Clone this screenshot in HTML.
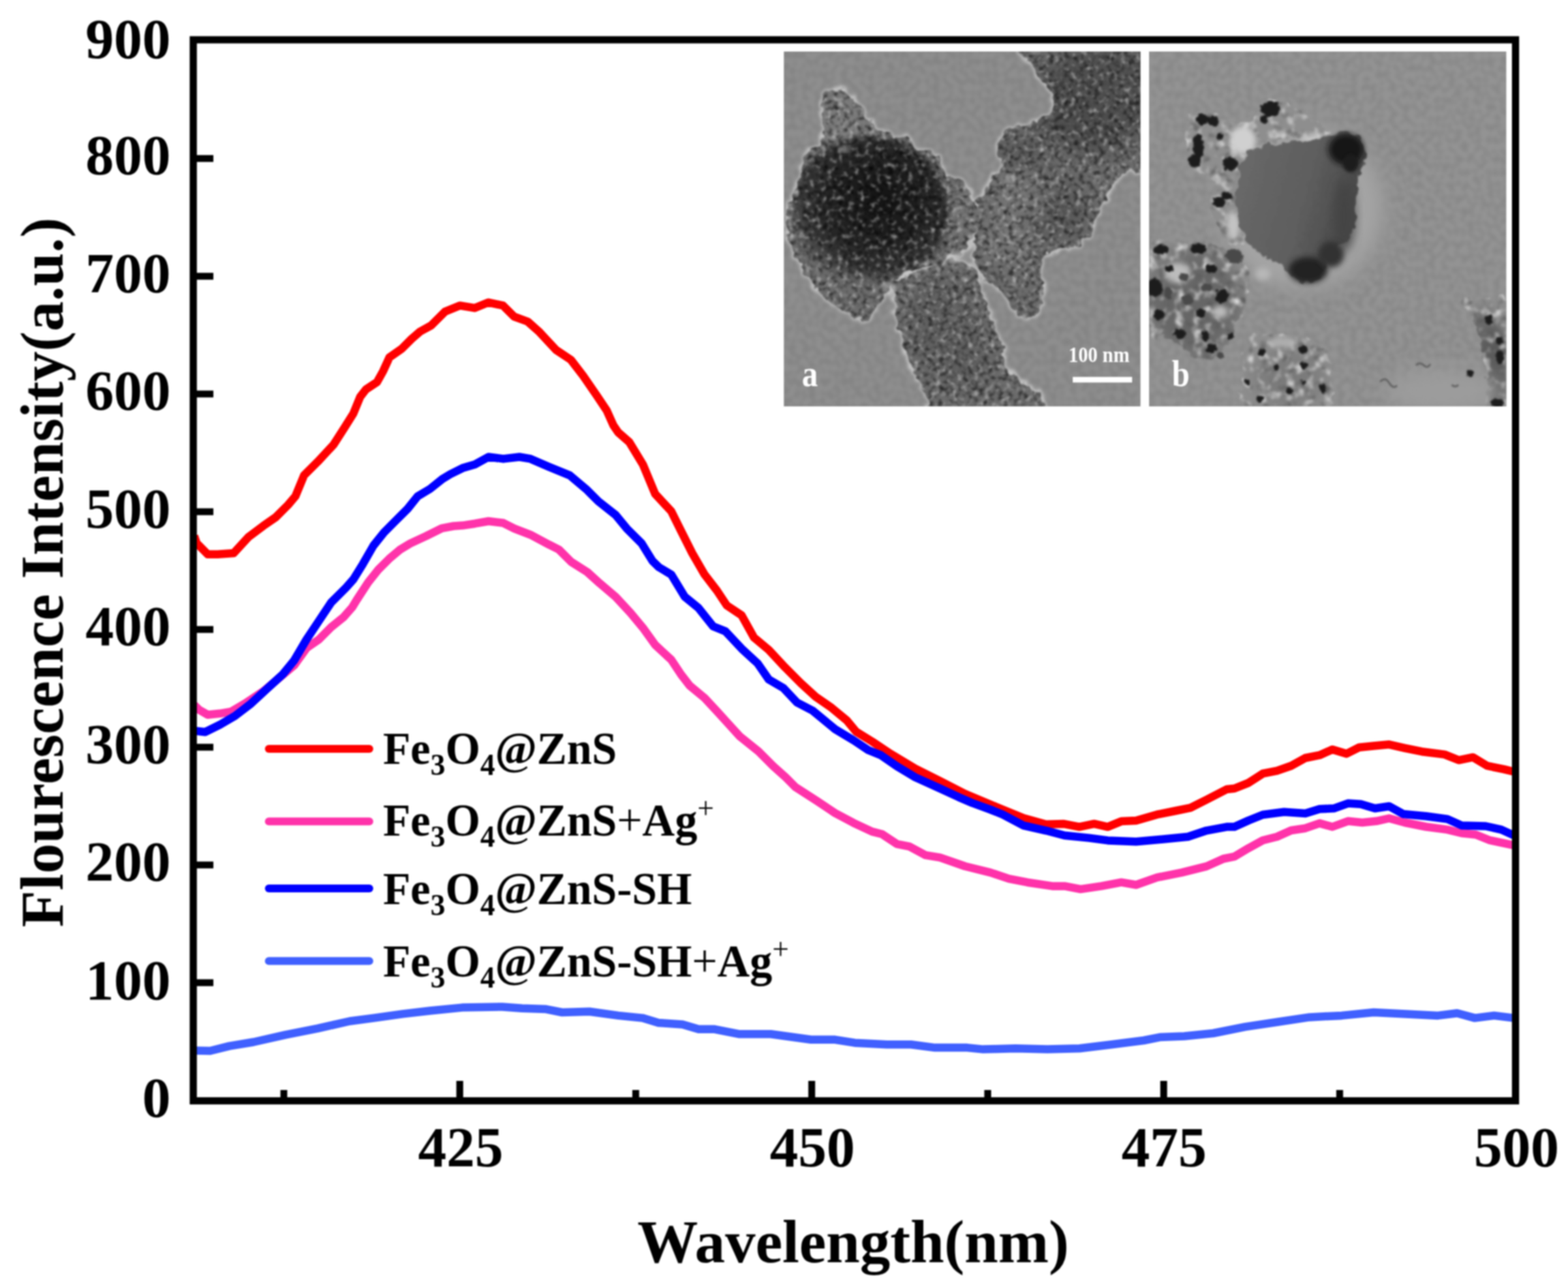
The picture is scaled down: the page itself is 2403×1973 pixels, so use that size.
<!DOCTYPE html>
<html><head><meta charset="utf-8">
<title>Fluorescence spectra</title>
<style>
html,body{margin:0;padding:0;background:#fff;}
body{width:2403px;height:1973px;overflow:hidden;}
svg{display:block;filter:blur(0.9px);}
text{font-family:"Liberation Serif","Times New Roman",serif;font-weight:bold;fill:#000;}
</style></head>
<body>
<svg width="2403" height="1973" viewBox="0 0 2403 1973">
<defs>
<clipPath id="cpa"><rect x="1201.3" y="79" width="546.5" height="544"/></clipPath>
<clipPath id="cpb"><rect x="1761" y="79" width="547.4" height="544"/></clipPath>
<filter id="blur1" x="-20%" y="-20%" width="140%" height="140%"><feGaussianBlur stdDeviation="1.2"/></filter>
<filter id="blur2" x="-20%" y="-20%" width="140%" height="140%"><feGaussianBlur stdDeviation="2"/></filter>
<filter id="blur4" x="-30%" y="-30%" width="160%" height="160%"><feGaussianBlur stdDeviation="4"/></filter>
<filter id="blur8" x="-40%" y="-40%" width="180%" height="180%"><feGaussianBlur stdDeviation="8"/></filter>
<filter id="blur15" x="-50%" y="-50%" width="200%" height="200%"><feGaussianBlur stdDeviation="15"/></filter>
<filter id="rough" x="-10%" y="-10%" width="120%" height="120%">
<feTurbulence type="fractalNoise" baseFrequency="0.08" numOctaves="2" seed="3" result="n"/>
<feDisplacementMap in="SourceGraphic" in2="n" scale="16" xChannelSelector="R" yChannelSelector="G" result="d"/>
<feGaussianBlur in="d" stdDeviation="1"/>
</filter>
<filter id="rough2" x="-30%" y="-30%" width="160%" height="160%">
<feTurbulence type="fractalNoise" baseFrequency="0.15" numOctaves="2" seed="9" result="n"/>
<feDisplacementMap in="SourceGraphic" in2="n" scale="7" xChannelSelector="R" yChannelSelector="G" result="d"/>
<feGaussianBlur in="d" stdDeviation="1.1"/>
</filter>
<filter id="darkspk" x="0" y="0" width="100%" height="100%">
<feTurbulence type="fractalNoise" baseFrequency="0.13" numOctaves="2" seed="7"/>
<feColorMatrix type="matrix" values="0 0 0 0 0  0 0 0 0 0  0 0 0 0 0  1.8 0 0 0 -0.82"/>
<feGaussianBlur stdDeviation="1.3"/>
</filter>
<filter id="lightspk" x="0" y="0" width="100%" height="100%">
<feTurbulence type="fractalNoise" baseFrequency="0.12" numOctaves="2" seed="19"/>
<feColorMatrix type="matrix" values="0 0 0 0 0.75  0 0 0 0 0.75  0 0 0 0 0.75  1.8 0 0 0 -0.95"/>
<feGaussianBlur stdDeviation="1.3"/>
</filter>
<filter id="darkspkB" x="0" y="0" width="100%" height="100%">
<feTurbulence type="fractalNoise" baseFrequency="0.07" numOctaves="2" seed="5"/>
<feColorMatrix type="matrix" values="0 0 0 0 0.1  0 0 0 0 0.1  0 0 0 0 0.1  3 0 0 0 -1.6"/>
<feGaussianBlur stdDeviation="1.5"/>
</filter>
<filter id="lightspkB" x="0" y="0" width="100%" height="100%">
<feTurbulence type="fractalNoise" baseFrequency="0.07" numOctaves="2" seed="29"/>
<feColorMatrix type="matrix" values="0 0 0 0 0.82  0 0 0 0 0.82  0 0 0 0 0.82  2.5 0 0 0 -1.25"/>
<feGaussianBlur stdDeviation="1.5"/>
</filter>
<filter id="bgnoise" x="0" y="0" width="100%" height="100%">
<feTurbulence type="fractalNoise" baseFrequency="0.1" numOctaves="1" seed="23"/>
<feColorMatrix type="matrix" values="0 0 0 0 0  0 0 0 0 0  0 0 0 0 0  0.16 0 0 0 -0.05"/>
<feGaussianBlur stdDeviation="1"/>
</filter>
<radialGradient id="ballA" cx="0.56" cy="0.42" r="0.6">
<stop offset="0" stop-color="#141414"/>
<stop offset="0.5" stop-color="#222"/>
<stop offset="0.8" stop-color="#363636"/>
<stop offset="1" stop-color="#4a4a4a" stop-opacity="0"/>
</radialGradient>
<radialGradient id="ballB" cx="0.4" cy="0.5" r="0.65">
<stop offset="0" stop-color="#6c6c6c"/>
<stop offset="0.6" stop-color="#626262"/>
<stop offset="1" stop-color="#4c4c4c"/>
</radialGradient>
<linearGradient id="ballBg" x1="0" y1="0" x2="1" y2="0.3">
<stop offset="0" stop-color="#6a6a6a"/>
<stop offset="0.6" stop-color="#5e5e5e"/>
<stop offset="1" stop-color="#474747"/>
</linearGradient>
<radialGradient id="haloB" cx="0.5" cy="0.5" r="0.5">
<stop offset="0" stop-color="#b0b0b0"/>
<stop offset="0.75" stop-color="#a2a2a2"/>
<stop offset="1" stop-color="#919191" stop-opacity="0"/>
</radialGradient>
</defs>
<rect width="2403" height="1973" fill="#fff"/>

<mask id="mA" x="1190" y="70" width="570" height="560" maskUnits="userSpaceOnUse"><rect x="1190" y="70" width="570" height="560" fill="#000"/><g fill="#fff" filter="url(#rough)"><path d="M1262.9,144.0 C1266.6,139.8 1276.0,138.3 1281.8,137.7 C1287.5,137.2 1292.8,138.3 1297.5,140.9 C1302.2,143.5 1305.9,149.3 1310.1,153.5 C1314.3,157.7 1320.0,161.3 1322.6,166.1 C1325.3,170.8 1323.2,178.1 1325.8,181.8 C1328.4,185.4 1334.7,184.9 1338.4,188.1 C1342.0,191.2 1343.6,198.0 1347.8,200.6 C1352.0,203.3 1358.8,202.2 1363.5,203.8 C1368.2,205.4 1371.9,209.6 1376.1,210.1 C1380.3,210.6 1385.0,205.4 1388.7,206.9 C1392.3,208.5 1395.5,215.3 1398.1,219.5 C1400.7,223.7 1400.7,230.0 1404.4,232.1 C1408.1,234.2 1415.4,231.6 1420.1,232.1 C1424.8,232.6 1429.0,232.6 1432.7,235.2 C1436.4,237.9 1440.0,242.6 1442.1,247.8 C1444.2,253.1 1442.7,262.5 1445.3,266.7 C1447.9,270.9 1453.1,271.4 1457.9,273.0 C1462.6,274.5 1469.4,273.5 1473.6,276.1 C1477.8,278.7 1480.4,284.0 1483.0,288.7 C1485.6,293.4 1486.7,299.7 1489.3,304.4 C1491.9,309.1 1496.6,312.8 1498.7,317.0 C1500.8,321.2 1502.4,324.3 1501.9,329.6 C1501.4,334.8 1497.7,342.2 1495.6,348.4 C1493.5,354.7 1491.9,362.1 1489.3,367.3 C1486.7,372.5 1483.5,376.2 1479.9,379.9 C1476.2,383.6 1472.0,386.7 1467.3,389.3 C1462.6,391.9 1456.3,393.0 1451.6,395.6 C1446.9,398.2 1444.2,402.9 1439.0,405.0 C1433.8,407.1 1426.4,406.6 1420.1,408.2 C1413.8,409.8 1407.5,412.4 1401.3,414.5 C1395.0,416.6 1387.6,417.6 1382.4,420.8 C1377.1,423.9 1373.5,428.6 1369.8,433.3 C1366.1,438.1 1363.5,443.8 1360.4,449.1 C1357.2,454.3 1354.6,459.6 1350.9,464.8 C1347.3,470.0 1342.6,476.3 1338.4,480.5 C1334.2,484.7 1330.5,488.9 1325.8,489.9 C1321.1,491.0 1315.3,488.9 1310.1,486.8 C1304.8,484.7 1299.6,480.5 1294.3,477.4 C1289.1,474.2 1283.9,472.1 1278.6,467.9 C1273.4,463.7 1268.1,457.5 1262.9,452.2 C1257.7,447.0 1251.9,442.3 1247.2,436.5 C1242.5,430.7 1238.8,424.4 1234.6,417.6 C1230.4,410.8 1225.7,402.4 1222.0,395.6 C1218.3,388.8 1215.2,383.6 1212.6,376.7 C1210.0,369.9 1207.3,362.6 1206.3,354.7 C1205.2,346.9 1205.2,337.4 1206.3,329.6 C1207.3,321.7 1210.5,314.9 1212.6,307.6 C1214.7,300.2 1216.2,292.4 1218.9,285.5 C1221.5,278.7 1226.2,273.5 1228.3,266.7 C1230.4,259.9 1229.4,251.0 1231.4,244.7 C1233.5,238.4 1236.7,232.6 1240.9,228.9 C1245.1,225.3 1252.9,226.8 1256.6,222.7 C1260.3,218.5 1262.4,210.6 1262.9,203.8 C1263.4,197.0 1260.3,188.6 1259.7,181.8 C1259.2,175.0 1259.2,169.2 1259.7,162.9 C1260.3,156.6 1259.2,148.2 1262.9,144.0 Z"/><path d="M1369.8,433.3 C1372.7,427.1 1381.3,427.1 1388.7,423.9 C1396.0,420.8 1405.5,417.6 1413.8,414.5 C1422.2,411.3 1431.1,407.7 1439.0,405.0 C1446.9,402.4 1453.7,398.8 1461.0,398.8 C1468.3,398.8 1476.7,400.9 1483.0,405.0 C1489.3,409.2 1494.5,416.6 1498.7,423.9 C1502.9,431.2 1505.6,440.7 1508.2,449.1 C1510.8,457.5 1512.4,466.9 1514.5,474.2 C1516.6,481.6 1518.1,486.8 1520.8,493.1 C1523.4,499.4 1527.6,505.7 1530.2,512.0 C1532.8,518.3 1534.9,524.0 1536.5,530.8 C1538.1,537.6 1537.5,545.5 1539.6,552.8 C1541.7,560.2 1544.9,569.1 1549.1,574.9 C1553.2,580.6 1559.0,583.8 1564.8,587.4 C1570.5,591.1 1578.4,588.5 1583.6,596.9 C1588.9,605.3 1620.3,630.9 1596.2,637.7 C1572.1,644.6 1468.3,643.0 1439.0,637.7 C1409.6,632.5 1425.4,615.7 1420.1,606.3 C1414.9,596.9 1411.7,589.5 1407.5,581.1 C1403.4,572.8 1398.6,564.4 1395.0,556.0 C1391.3,547.6 1388.2,538.7 1385.5,530.8 C1382.9,523.0 1381.3,516.2 1379.2,508.8 C1377.1,501.5 1374.3,494.7 1373.0,486.8 C1371.6,478.9 1371.9,470.6 1371.4,461.6 C1370.9,452.7 1366.9,439.6 1369.8,433.3 Z"/><path d="M1495.6,323.3 C1497.2,313.8 1501.9,304.9 1505.0,298.1 C1508.2,291.3 1510.8,287.1 1514.5,282.4 C1518.1,277.7 1523.9,274.5 1527.0,269.8 C1530.2,265.1 1532.8,260.4 1533.3,254.1 C1533.9,247.8 1530.2,238.9 1530.2,232.1 C1530.2,225.3 1530.7,219.0 1533.3,213.2 C1536.0,207.5 1541.2,201.2 1545.9,197.5 C1550.6,193.8 1556.4,191.7 1561.6,191.2 C1566.9,190.7 1572.6,195.4 1577.4,194.4 C1582.1,193.3 1585.2,188.1 1589.9,184.9 C1594.7,181.8 1601.5,179.2 1605.7,175.5 C1609.9,171.8 1614.0,167.6 1615.1,162.9 C1616.1,158.2 1614.0,152.4 1611.9,147.2 C1609.9,141.9 1606.2,136.7 1602.5,131.5 C1598.8,126.2 1593.6,121.5 1589.9,115.7 C1586.3,110.0 1583.1,104.7 1580.5,96.9 C1577.9,89.0 1543.8,73.3 1574.2,68.6 C1604.6,63.8 1731.4,38.7 1762.9,68.6 C1794.3,98.4 1766.6,215.8 1762.9,247.8 C1759.2,279.8 1747.7,257.2 1740.9,260.4 C1734.1,263.5 1727.3,263.5 1722.0,266.7 C1716.8,269.8 1713.6,274.0 1709.4,279.3 C1705.2,284.5 1700.5,291.8 1696.9,298.1 C1693.2,304.4 1690.6,310.2 1687.4,317.0 C1684.3,323.8 1680.6,332.2 1678.0,339.0 C1675.4,345.8 1674.8,352.6 1671.7,357.9 C1668.6,363.1 1664.4,366.8 1659.1,370.5 C1653.9,374.1 1646.5,377.8 1640.3,379.9 C1634.0,382.0 1627.7,381.5 1621.4,383.0 C1615.1,384.6 1607.2,385.7 1602.5,389.3 C1597.8,393.0 1594.7,399.3 1593.1,405.0 C1591.5,410.8 1592.0,417.6 1593.1,423.9 C1594.1,430.2 1598.8,436.0 1599.4,442.8 C1599.9,449.6 1598.3,458.0 1596.2,464.8 C1594.1,471.6 1591.0,480.0 1586.8,483.7 C1582.6,487.3 1576.3,487.9 1571.1,486.8 C1565.8,485.8 1559.5,481.6 1555.3,477.4 C1551.2,473.2 1549.6,466.9 1545.9,461.6 C1542.2,456.4 1538.1,450.6 1533.3,445.9 C1528.6,441.2 1522.3,437.5 1517.6,433.3 C1512.9,429.2 1508.7,426.0 1505.0,420.8 C1501.4,415.5 1497.7,408.7 1495.6,401.9 C1493.5,395.1 1492.5,387.7 1492.5,379.9 C1492.5,372.0 1495.1,364.2 1495.6,354.7 C1496.1,345.3 1494.0,332.7 1495.6,323.3 Z"/></g></mask>
<g clip-path="url(#cpa)">
<rect x="1201" y="79" width="547" height="544" fill="#8e8e8e"/>
<g filter="url(#bgnoise)"><rect x="1201" y="79" width="547" height="544"/></g>
<g fill="none" stroke="#c8c8c8" stroke-width="6" filter="url(#blur2)"><g filter="url(#rough)"><path d="M1262.9,144.0 C1266.6,139.8 1276.0,138.3 1281.8,137.7 C1287.5,137.2 1292.8,138.3 1297.5,140.9 C1302.2,143.5 1305.9,149.3 1310.1,153.5 C1314.3,157.7 1320.0,161.3 1322.6,166.1 C1325.3,170.8 1323.2,178.1 1325.8,181.8 C1328.4,185.4 1334.7,184.9 1338.4,188.1 C1342.0,191.2 1343.6,198.0 1347.8,200.6 C1352.0,203.3 1358.8,202.2 1363.5,203.8 C1368.2,205.4 1371.9,209.6 1376.1,210.1 C1380.3,210.6 1385.0,205.4 1388.7,206.9 C1392.3,208.5 1395.5,215.3 1398.1,219.5 C1400.7,223.7 1400.7,230.0 1404.4,232.1 C1408.1,234.2 1415.4,231.6 1420.1,232.1 C1424.8,232.6 1429.0,232.6 1432.7,235.2 C1436.4,237.9 1440.0,242.6 1442.1,247.8 C1444.2,253.1 1442.7,262.5 1445.3,266.7 C1447.9,270.9 1453.1,271.4 1457.9,273.0 C1462.6,274.5 1469.4,273.5 1473.6,276.1 C1477.8,278.7 1480.4,284.0 1483.0,288.7 C1485.6,293.4 1486.7,299.7 1489.3,304.4 C1491.9,309.1 1496.6,312.8 1498.7,317.0 C1500.8,321.2 1502.4,324.3 1501.9,329.6 C1501.4,334.8 1497.7,342.2 1495.6,348.4 C1493.5,354.7 1491.9,362.1 1489.3,367.3 C1486.7,372.5 1483.5,376.2 1479.9,379.9 C1476.2,383.6 1472.0,386.7 1467.3,389.3 C1462.6,391.9 1456.3,393.0 1451.6,395.6 C1446.9,398.2 1444.2,402.9 1439.0,405.0 C1433.8,407.1 1426.4,406.6 1420.1,408.2 C1413.8,409.8 1407.5,412.4 1401.3,414.5 C1395.0,416.6 1387.6,417.6 1382.4,420.8 C1377.1,423.9 1373.5,428.6 1369.8,433.3 C1366.1,438.1 1363.5,443.8 1360.4,449.1 C1357.2,454.3 1354.6,459.6 1350.9,464.8 C1347.3,470.0 1342.6,476.3 1338.4,480.5 C1334.2,484.7 1330.5,488.9 1325.8,489.9 C1321.1,491.0 1315.3,488.9 1310.1,486.8 C1304.8,484.7 1299.6,480.5 1294.3,477.4 C1289.1,474.2 1283.9,472.1 1278.6,467.9 C1273.4,463.7 1268.1,457.5 1262.9,452.2 C1257.7,447.0 1251.9,442.3 1247.2,436.5 C1242.5,430.7 1238.8,424.4 1234.6,417.6 C1230.4,410.8 1225.7,402.4 1222.0,395.6 C1218.3,388.8 1215.2,383.6 1212.6,376.7 C1210.0,369.9 1207.3,362.6 1206.3,354.7 C1205.2,346.9 1205.2,337.4 1206.3,329.6 C1207.3,321.7 1210.5,314.9 1212.6,307.6 C1214.7,300.2 1216.2,292.4 1218.9,285.5 C1221.5,278.7 1226.2,273.5 1228.3,266.7 C1230.4,259.9 1229.4,251.0 1231.4,244.7 C1233.5,238.4 1236.7,232.6 1240.9,228.9 C1245.1,225.3 1252.9,226.8 1256.6,222.7 C1260.3,218.5 1262.4,210.6 1262.9,203.8 C1263.4,197.0 1260.3,188.6 1259.7,181.8 C1259.2,175.0 1259.2,169.2 1259.7,162.9 C1260.3,156.6 1259.2,148.2 1262.9,144.0 Z"/><path d="M1369.8,433.3 C1372.7,427.1 1381.3,427.1 1388.7,423.9 C1396.0,420.8 1405.5,417.6 1413.8,414.5 C1422.2,411.3 1431.1,407.7 1439.0,405.0 C1446.9,402.4 1453.7,398.8 1461.0,398.8 C1468.3,398.8 1476.7,400.9 1483.0,405.0 C1489.3,409.2 1494.5,416.6 1498.7,423.9 C1502.9,431.2 1505.6,440.7 1508.2,449.1 C1510.8,457.5 1512.4,466.9 1514.5,474.2 C1516.6,481.6 1518.1,486.8 1520.8,493.1 C1523.4,499.4 1527.6,505.7 1530.2,512.0 C1532.8,518.3 1534.9,524.0 1536.5,530.8 C1538.1,537.6 1537.5,545.5 1539.6,552.8 C1541.7,560.2 1544.9,569.1 1549.1,574.9 C1553.2,580.6 1559.0,583.8 1564.8,587.4 C1570.5,591.1 1578.4,588.5 1583.6,596.9 C1588.9,605.3 1620.3,630.9 1596.2,637.7 C1572.1,644.6 1468.3,643.0 1439.0,637.7 C1409.6,632.5 1425.4,615.7 1420.1,606.3 C1414.9,596.9 1411.7,589.5 1407.5,581.1 C1403.4,572.8 1398.6,564.4 1395.0,556.0 C1391.3,547.6 1388.2,538.7 1385.5,530.8 C1382.9,523.0 1381.3,516.2 1379.2,508.8 C1377.1,501.5 1374.3,494.7 1373.0,486.8 C1371.6,478.9 1371.9,470.6 1371.4,461.6 C1370.9,452.7 1366.9,439.6 1369.8,433.3 Z"/><path d="M1495.6,323.3 C1497.2,313.8 1501.9,304.9 1505.0,298.1 C1508.2,291.3 1510.8,287.1 1514.5,282.4 C1518.1,277.7 1523.9,274.5 1527.0,269.8 C1530.2,265.1 1532.8,260.4 1533.3,254.1 C1533.9,247.8 1530.2,238.9 1530.2,232.1 C1530.2,225.3 1530.7,219.0 1533.3,213.2 C1536.0,207.5 1541.2,201.2 1545.9,197.5 C1550.6,193.8 1556.4,191.7 1561.6,191.2 C1566.9,190.7 1572.6,195.4 1577.4,194.4 C1582.1,193.3 1585.2,188.1 1589.9,184.9 C1594.7,181.8 1601.5,179.2 1605.7,175.5 C1609.9,171.8 1614.0,167.6 1615.1,162.9 C1616.1,158.2 1614.0,152.4 1611.9,147.2 C1609.9,141.9 1606.2,136.7 1602.5,131.5 C1598.8,126.2 1593.6,121.5 1589.9,115.7 C1586.3,110.0 1583.1,104.7 1580.5,96.9 C1577.9,89.0 1543.8,73.3 1574.2,68.6 C1604.6,63.8 1731.4,38.7 1762.9,68.6 C1794.3,98.4 1766.6,215.8 1762.9,247.8 C1759.2,279.8 1747.7,257.2 1740.9,260.4 C1734.1,263.5 1727.3,263.5 1722.0,266.7 C1716.8,269.8 1713.6,274.0 1709.4,279.3 C1705.2,284.5 1700.5,291.8 1696.9,298.1 C1693.2,304.4 1690.6,310.2 1687.4,317.0 C1684.3,323.8 1680.6,332.2 1678.0,339.0 C1675.4,345.8 1674.8,352.6 1671.7,357.9 C1668.6,363.1 1664.4,366.8 1659.1,370.5 C1653.9,374.1 1646.5,377.8 1640.3,379.9 C1634.0,382.0 1627.7,381.5 1621.4,383.0 C1615.1,384.6 1607.2,385.7 1602.5,389.3 C1597.8,393.0 1594.7,399.3 1593.1,405.0 C1591.5,410.8 1592.0,417.6 1593.1,423.9 C1594.1,430.2 1598.8,436.0 1599.4,442.8 C1599.9,449.6 1598.3,458.0 1596.2,464.8 C1594.1,471.6 1591.0,480.0 1586.8,483.7 C1582.6,487.3 1576.3,487.9 1571.1,486.8 C1565.8,485.8 1559.5,481.6 1555.3,477.4 C1551.2,473.2 1549.6,466.9 1545.9,461.6 C1542.2,456.4 1538.1,450.6 1533.3,445.9 C1528.6,441.2 1522.3,437.5 1517.6,433.3 C1512.9,429.2 1508.7,426.0 1505.0,420.8 C1501.4,415.5 1497.7,408.7 1495.6,401.9 C1493.5,395.1 1492.5,387.7 1492.5,379.9 C1492.5,372.0 1495.1,364.2 1495.6,354.7 C1496.1,345.3 1494.0,332.7 1495.6,323.3 Z"/></g></g>
<g mask="url(#mA)">
<rect x="1201" y="79" width="547" height="544" fill="#6b6b6b"/>
<ellipse cx="1671.7" cy="156.6" rx="90" ry="80" fill="#4e4e4e" filter="url(#blur15)"/>
<ellipse cx="1709.4" cy="118.9" rx="50" ry="40" fill="#505050" filter="url(#blur15)"/>
<ellipse cx="1608.8" cy="323.3" rx="60" ry="50" fill="#5a5a5a" filter="url(#blur15)"/>
<ellipse cx="1561.6" cy="241.5" rx="45" ry="40" fill="#5c5c5c" filter="url(#blur15)"/>
<ellipse cx="1445.3" cy="502.5" rx="55" ry="70" fill="#606060" filter="url(#blur15)"/>
<ellipse cx="1476.7" cy="565.4" rx="40" ry="40" fill="#5e5e5e" filter="url(#blur15)"/>
<ellipse cx="1545.9" cy="361.0" rx="40" ry="40" fill="#767676" filter="url(#blur15)"/>
<ellipse cx="1294.3" cy="181.8" rx="45" ry="50" fill="#7a7a7a" filter="url(#blur15)"/>
<ellipse cx="1561.6" cy="298.1" rx="45" ry="40" fill="#747474" filter="url(#blur15)"/>
<ellipse cx="1467.3" cy="329.6" rx="30" ry="40" fill="#737373" filter="url(#blur15)"/>
<ellipse cx="1332.1" cy="323.3" rx="122" ry="114" fill="url(#ballA)" filter="url(#blur4)"/>
<g filter="url(#darkspk)"><rect x="1201" y="79" width="547" height="544"/></g>
<g filter="url(#lightspk)"><rect x="1201" y="79" width="547" height="544"/></g>
<ellipse cx="1363.5" cy="439.6" rx="12.6" ry="4.4" fill="#a8a8a8" filter="url(#blur4)"/>
<ellipse cx="1470.4" cy="395.6" rx="18.9" ry="7.9" fill="#a8a8a8" filter="url(#blur4)"/>
<ellipse cx="1545.9" cy="273.0" rx="7.9" ry="4.4" fill="#a8a8a8" filter="url(#blur4)"/>
<ellipse cx="1294.3" cy="228.9" rx="7.9" ry="3.8" fill="#a8a8a8" filter="url(#blur4)"/>
</g>
</g>
<text transform="translate(1229,592) scale(0.85,1)" font-size="57.5" style="fill:#fff">a</text>
<text transform="translate(1637.5,554.5) scale(0.876,1)" font-size="34" style="fill:#fff">100 nm</text>
<rect x="1644" y="577.8" width="91" height="8.6" fill="#fff"/>
<g clip-path="url(#cpb)">
<rect x="1761" y="79" width="548" height="544" fill="#939393"/>
<g filter="url(#bgnoise)"><rect x="1761" y="79" width="548" height="544"/></g>
<ellipse cx="1995" cy="318" rx="150" ry="150" fill="url(#haloB)" filter="url(#blur8)"/>
<mask id="mB" x="1750" y="70" width="570" height="560" maskUnits="userSpaceOnUse"><rect x="1750" y="70" width="570" height="560" fill="#000"/><g fill="#fff" filter="url(#rough)"><path d="M1761.0,373.0 C1765.8,350.3 1778.5,369.3 1790.0,369.0 C1801.5,368.7 1816.7,369.5 1830.0,371.0 C1843.3,372.5 1858.3,374.3 1870.0,378.0 C1881.7,381.7 1892.5,386.0 1900.0,393.0 C1907.5,400.0 1913.3,408.8 1915.0,420.0 C1916.7,431.2 1913.3,446.7 1910.0,460.0 C1906.7,473.3 1900.0,488.3 1895.0,500.0 C1890.0,511.7 1885.8,522.0 1880.0,530.0 C1874.2,538.0 1866.7,544.7 1860.0,548.0 C1853.3,551.3 1848.3,552.7 1840.0,550.0 C1831.7,547.3 1819.2,537.8 1810.0,532.0 C1800.8,526.2 1793.2,519.5 1785.0,515.0 C1776.8,510.5 1765.0,528.7 1761.0,505.0 C1757.0,481.3 1756.2,395.7 1761.0,373.0 Z"/><path d="M1825.0,172.0 C1830.0,167.5 1841.7,166.7 1850.0,168.0 C1858.3,169.3 1867.5,176.3 1875.0,180.0 C1882.5,183.7 1885.8,190.3 1895.0,190.0 C1904.2,189.7 1922.5,183.3 1930.0,178.0 C1937.5,172.7 1934.2,161.8 1940.0,158.0 C1945.8,154.2 1956.7,153.0 1965.0,155.0 C1973.3,157.0 1980.8,164.2 1990.0,170.0 C1999.2,175.8 2012.5,184.2 2020.0,190.0 C2027.5,195.8 2045.0,200.8 2035.0,205.0 C2025.0,209.2 1980.8,210.5 1960.0,215.0 C1939.2,219.5 1920.3,222.8 1910.0,232.0 C1899.7,241.2 1900.5,253.7 1898.0,270.0 C1895.5,286.3 1893.8,313.3 1895.0,330.0 C1896.2,346.7 1907.5,363.0 1905.0,370.0 C1902.5,377.0 1887.5,378.7 1880.0,372.0 C1872.5,365.3 1865.0,342.0 1860.0,330.0 C1855.0,318.0 1850.0,308.3 1850.0,300.0 C1850.0,291.7 1863.3,286.3 1860.0,280.0 C1856.7,273.7 1837.0,270.3 1830.0,262.0 C1823.0,253.7 1819.7,241.2 1818.0,230.0 C1816.3,218.8 1818.8,204.7 1820.0,195.0 C1821.2,185.3 1820.0,176.5 1825.0,172.0 Z"/><path d="M1910.0,520.0 C1915.8,508.7 1928.3,513.0 1940.0,512.0 C1951.7,511.0 1968.3,512.3 1980.0,514.0 C1991.7,515.7 2000.8,517.7 2010.0,522.0 C2019.2,526.3 2030.0,530.3 2035.0,540.0 C2040.0,549.7 2040.0,565.0 2040.0,580.0 C2040.0,595.0 2056.7,621.7 2035.0,630.0 C2013.3,638.3 1931.7,638.3 1910.0,630.0 C1888.3,621.7 1905.0,598.3 1905.0,580.0 C1905.0,561.7 1904.2,531.3 1910.0,520.0 Z"/><path d="M2235.0,462.0 C2236.2,456.7 2255.8,458.7 2265.0,458.0 C2274.2,457.3 2282.2,457.3 2290.0,458.0 C2297.8,458.7 2308.3,433.3 2312.0,462.0 C2315.7,490.7 2317.3,602.0 2312.0,630.0 C2306.7,658.0 2285.3,636.7 2280.0,630.0 C2274.7,623.3 2281.7,606.7 2280.0,590.0 C2278.3,573.3 2273.7,546.7 2270.0,530.0 C2266.3,513.3 2263.8,501.3 2258.0,490.0 C2252.2,478.7 2233.8,467.3 2235.0,462.0 Z"/></g></mask>
<g mask="url(#mB)">
<rect x="1761" y="79" width="548" height="544" fill="#8e8e8e"/>
<ellipse cx="2275" cy="540" rx="25" ry="70" fill="#6a6a6a" filter="url(#blur8)"/>
<ellipse cx="1830" cy="465" rx="75" ry="85" fill="#666" filter="url(#blur15)"/>
<ellipse cx="1975" cy="580" rx="55" ry="45" fill="#7a7a7a" filter="url(#blur15)"/>
<ellipse cx="2290" cy="560" rx="25" ry="60" fill="#5a5a5a" filter="url(#blur8)"/>
<g filter="url(#darkspkB)"><rect x="1761" y="79" width="548" height="544"/></g>
<g filter="url(#lightspkB)"><rect x="1761" y="79" width="548" height="544"/></g>
</g>
<ellipse cx="2210" cy="600" rx="90" ry="35" fill="#9c9c9c" filter="url(#blur15)"/>
<g fill="none" stroke="#5a5a5a" stroke-width="2.5" filter="url(#blur1)"><path d="M2115,585 q8,-8 14,2 t12,4"/><path d="M2170,560 q6,-6 12,0 t10,-2"/><path d="M2225,590 q5,5 10,0"/></g>
<ellipse cx="1905" cy="215" rx="20" ry="22" fill="#d0d0d0" filter="url(#blur4)"/>
<ellipse cx="1890" cy="345" rx="10" ry="22" fill="#c4c4c4" filter="url(#blur4)"/>
<ellipse cx="2010" cy="212" rx="18" ry="7" fill="#c8c8c8" filter="url(#blur4)"/>
<ellipse cx="1805" cy="418" rx="20" ry="16" fill="#bcbcbc" filter="url(#blur4)"/>
<ellipse cx="1870" cy="478" rx="12" ry="10" fill="#bcbcbc" filter="url(#blur4)"/>
<ellipse cx="1965" cy="525" rx="20" ry="8" fill="#b0b0b0" filter="url(#blur4)"/>
<ellipse cx="1935" cy="420" rx="12" ry="10" fill="#b8b8b8" filter="url(#blur4)"/>
<path d="M1901.6,250.6 C1904.8,244.2 1910.7,236.1 1917.7,231.3 C1924.7,226.5 1933.8,223.8 1943.5,221.6 C1953.2,219.4 1965.0,219.5 1975.8,218.4 C1986.6,217.3 1999.0,216.8 2008.1,215.2 C2017.2,213.6 2024.1,210.8 2030.6,208.7 C2037.0,206.5 2040.9,203.4 2046.8,202.3 C2052.7,201.2 2059.7,200.7 2066.1,202.3 C2072.5,203.9 2081.2,207.2 2085.5,212.0 C2089.8,216.8 2091.5,224.9 2092.0,231.3 C2092.5,237.7 2090.3,244.2 2088.7,250.6 C2087.1,257.1 2083.9,262.5 2082.3,270.0 C2080.7,277.5 2079.6,286.1 2079.0,295.8 C2078.4,305.5 2079.5,319.0 2079.0,328.1 C2078.5,337.2 2078.0,344.2 2075.8,350.6 C2073.7,357.1 2070.4,362.0 2066.1,366.8 C2061.8,371.6 2054.8,375.4 2050.0,379.7 C2045.2,384.0 2040.3,387.2 2037.1,392.6 C2033.9,398.0 2033.3,406.1 2030.6,412.0 C2027.9,417.9 2025.3,424.4 2021.0,428.1 C2016.7,431.9 2010.2,434.5 2004.8,434.5 C1999.4,434.5 1994.1,431.3 1988.7,428.1 C1983.3,424.9 1978.5,419.5 1972.6,415.2 C1966.7,410.9 1959.7,406.6 1953.2,402.3 C1946.8,398.0 1940.4,394.2 1933.9,389.4 C1927.5,384.5 1919.9,379.1 1914.5,373.2 C1909.1,367.3 1904.8,361.4 1901.6,353.9 C1898.4,346.4 1896.3,337.8 1895.2,328.1 C1894.1,318.4 1894.7,305.5 1895.2,295.8 C1895.7,286.1 1897.3,277.5 1898.4,270.0 C1899.5,262.5 1898.4,257.1 1901.6,250.6 Z" fill="url(#ballBg)" filter="url(#rough)"/>
<ellipse cx="2063" cy="229" rx="27" ry="24" fill="#121212" filter="url(#blur4)"/>
<ellipse cx="2070" cy="250" rx="12" ry="14" fill="#1a1a1a" filter="url(#blur2)"/>
<ellipse cx="2005" cy="414" rx="30" ry="20" fill="#222" filter="url(#blur4)"/>
<ellipse cx="2060" cy="330" rx="16" ry="55" fill="#444" filter="url(#blur8)"/>
<ellipse cx="2040" cy="390" rx="20" ry="20" fill="#333" filter="url(#blur4)"/>
<g fill="#1c1c1c" filter="url(#rough2)">
<ellipse cx="1946.8" cy="166.8" rx="14.5" ry="12"/>
<ellipse cx="1937.0" cy="183.0" rx="6" ry="7"/>
<ellipse cx="1843.5" cy="183.0" rx="10" ry="9"/>
<ellipse cx="1859.7" cy="186.0" rx="8" ry="8"/>
<ellipse cx="1836.5" cy="225.0" rx="8" ry="20"/>
<ellipse cx="1830.6" cy="247.4" rx="10" ry="10"/>
<ellipse cx="1885.5" cy="250.6" rx="11" ry="11"/>
<ellipse cx="1869.0" cy="208.7" rx="5" ry="5"/>
<ellipse cx="1868.0" cy="310.0" rx="10" ry="8"/>
<ellipse cx="1880.0" cy="300.0" rx="8" ry="6"/>
<ellipse cx="1779.0" cy="383.0" rx="11" ry="8"/>
<ellipse cx="1837.0" cy="381.3" rx="12" ry="8"/>
<ellipse cx="1769.4" cy="441.0" rx="12" ry="14"/>
<ellipse cx="1872.6" cy="453.9" rx="10" ry="11"/>
<ellipse cx="1775.8" cy="483.0" rx="8" ry="8"/>
<ellipse cx="1808.0" cy="512.0" rx="9" ry="8"/>
<ellipse cx="1856.5" cy="534.5" rx="9" ry="7"/>
<ellipse cx="1846.8" cy="515.2" rx="6" ry="9"/>
<ellipse cx="1856.5" cy="412.0" rx="9" ry="7"/>
<ellipse cx="1840.0" cy="479.7" rx="7" ry="7"/>
<ellipse cx="1885.5" cy="515.0" rx="5" ry="5"/>
<ellipse cx="1792.0" cy="412.0" rx="7" ry="5"/>
<ellipse cx="1933.9" cy="539.4" rx="6" ry="6"/>
<ellipse cx="1996.8" cy="536.0" rx="7" ry="7"/>
<ellipse cx="1998.4" cy="560.3" rx="6" ry="6"/>
<ellipse cx="1911.3" cy="586.0" rx="4" ry="4"/>
<ellipse cx="1956.5" cy="563.5" rx="4" ry="4"/>
<ellipse cx="1975.8" cy="599.0" rx="5" ry="5"/>
<ellipse cx="2027.4" cy="595.8" rx="5" ry="7"/>
<ellipse cx="1930.6" cy="612.0" rx="5" ry="5"/>
<ellipse cx="1998.4" cy="586.0" rx="4" ry="4"/>
<ellipse cx="2295.0" cy="618.0" rx="10" ry="7"/>
<ellipse cx="2298.4" cy="521.6" rx="6" ry="6"/>
<ellipse cx="2253.2" cy="573.2" rx="5" ry="5"/>
<ellipse cx="2282.3" cy="489.4" rx="5" ry="8"/>
<ellipse cx="2298.4" cy="547.4" rx="6" ry="10"/>
</g>
<g fill="#4a4a4a" filter="url(#rough2)">
<ellipse cx="1892.0" cy="392.6" rx="14" ry="10"/>
<ellipse cx="1814.5" cy="424.8" rx="8" ry="6"/>
<ellipse cx="1820.0" cy="460.0" rx="8" ry="8"/>
<ellipse cx="1790.0" cy="450.0" rx="6" ry="10"/>
<ellipse cx="1850.0" cy="440.0" rx="8" ry="6"/>
<ellipse cx="1870.0" cy="545.0" rx="5" ry="5"/>
</g>
</g>
<text transform="translate(1796,592) scale(0.85,1)" font-size="57.5" style="fill:#fff">b</text>
<g fill="none" stroke-width="12.5" stroke-linejoin="round" stroke-linecap="butt">
<polyline stroke="#ff0000" points="297.6,821.4 301.4,832.7 318.4,849.8 333.5,849.8 358.1,847.9 380.8,823.3 403.5,806.2 422.5,793.0 441.4,774.1 452.7,760.8 466.0,728.7 486.8,707.9 511.4,681.4 528.4,654.9 541.5,634.0 552.0,608.4 560.8,597.0 577.8,585.7 587.3,568.7 596.8,547.9 615.7,534.6 630.8,519.5 644.1,508.1 661.1,498.7 681.9,477.8 704.6,468.4 727.3,472.2 748.1,463.7 770.8,468.4 787.9,485.4 808.7,493.0 825.7,508.1 852.2,536.5 874.9,551.6 893.8,576.2 914.6,606.5 929.8,629.2 940.0,652.0 947.3,662.7 964.4,677.8 985.2,711.9 1004.1,757.3 1028.7,783.8 1043.8,814.1 1060.9,848.1 1079.8,880.8 1098.7,905.4 1113.8,928.1 1136.5,943.3 1155.4,977.3 1178.1,996.2 1202.7,1022.7 1227.3,1047.3 1250.0,1068.1 1274.6,1085.2 1297.4,1104.1 1311.9,1121.6 1336.5,1136.8 1364.9,1155.7 1402.7,1178.4 1440.6,1197.3 1479.0,1217.0 1527.3,1237.3 1568.9,1254.3 1603.0,1263.8 1629.5,1262.9 1654.1,1267.6 1676.8,1262.9 1697.6,1267.6 1718.4,1259.1 1741.1,1258.1 1773.3,1248.7 1801.7,1243.0 1824.4,1238.3 1849.0,1226.0 1880.0,1210.0 1891.8,1208.8 1913.5,1200.1 1935.3,1185.9 1957.0,1181.6 1978.8,1174.0 2000.5,1162.0 2022.3,1157.7 2041.9,1149.0 2063.6,1155.5 2083.2,1145.7 2105.0,1143.5 2128.9,1141.3 2152.9,1146.8 2179.0,1152.2 2213.8,1156.6 2235.5,1165.3 2257.3,1160.9 2279.1,1174.0 2305.2,1179.4 2320.0,1183.0"/>
<polyline stroke="#ff33aa" points="297.6,1080.6 305.1,1088.1 318.4,1095.7 337.3,1093.8 354.3,1091.0 375.1,1078.7 403.5,1059.8 426.2,1040.8 450.8,1020.0 469.8,993.5 488.7,980.3 507.6,961.4 526.5,946.2 539.8,931.0 546.5,920.0 564.2,892.9 580.3,872.7 596.5,856.6 612.6,842.9 628.7,833.2 652.9,821.9 677.1,809.8 695.0,806.5 708.9,805.6 727.8,802.7 748.7,799.0 771.4,801.8 788.4,810.3 813.0,819.8 841.4,834.9 856.5,842.5 875.4,861.4 900.0,877.0 918.9,894.1 943.5,914.9 966.2,939.5 985.1,962.2 1004.1,988.7 1028.7,1011.4 1043.8,1034.1 1057.0,1051.1 1079.8,1070.0 1099.3,1091.0 1115.1,1108.4 1134.1,1129.2 1162.4,1151.9 1185.1,1174.6 1204.1,1191.6 1219.2,1206.8 1251.4,1227.6 1279.8,1246.5 1308.1,1261.6 1336.5,1274.9 1351.7,1278.7 1374.4,1293.8 1393.3,1297.6 1417.9,1310.8 1440.6,1314.6 1479.0,1328.0 1517.8,1337.6 1546.2,1347.1 1574.6,1352.7 1612.5,1358.4 1631.4,1358.4 1656.0,1363.1 1688.1,1358.4 1718.4,1352.7 1741.1,1356.5 1773.3,1345.2 1811.1,1337.6 1849.0,1328.1 1875.0,1316.5 1891.8,1313.2 1913.5,1300.2 1935.3,1288.2 1957.0,1282.8 1978.8,1273.0 2000.5,1269.7 2022.3,1262.1 2041.9,1267.5 2065.8,1258.8 2087.6,1261.0 2109.3,1258.8 2128.9,1254.5 2152.9,1261.0 2185.5,1267.5 2218.1,1271.9 2239.9,1277.3 2261.6,1279.5 2283.4,1288.2 2320.0,1295.8"/>
<polyline stroke="#0000ff" points="297.6,1120.3 314.6,1122.2 337.3,1110.8 360.0,1097.6 384.6,1078.7 411.1,1054.1 433.8,1033.3 450.8,1012.5 469.8,980.3 488.7,951.9 507.6,923.5 530.3,900.8 541.7,888.0 556.1,864.7 572.3,836.5 588.4,816.3 604.5,800.2 624.7,780.0 640.0,760.8 659.0,749.5 677.9,734.3 690.0,727.0 708.9,717.6 727.8,711.9 748.7,700.5 771.4,703.4 796.0,700.5 813.0,703.4 841.4,715.7 873.5,728.9 898.1,749.7 917.1,768.7 943.5,789.5 960.6,810.3 983.3,833.0 1000.0,860.0 1009.7,869.5 1028.7,880.8 1049.5,914.9 1070.3,931.9 1093.0,960.3 1111.9,967.9 1136.5,994.3 1161.1,1017.0 1178.1,1041.6 1200.8,1054.9 1221.5,1077.0 1245.0,1089.2 1279.8,1117.8 1308.1,1134.9 1330.8,1150.0 1349.8,1157.6 1374.4,1174.6 1402.7,1191.6 1440.6,1208.7 1469.0,1221.9 1490.0,1231.0 1517.8,1241.1 1536.8,1248.7 1568.9,1265.7 1603.0,1273.3 1631.4,1280.8 1669.2,1284.6 1697.6,1288.4 1741.1,1290.3 1782.7,1286.5 1820.6,1282.7 1849.0,1273.3 1880.0,1267.6 1891.8,1267.5 1913.5,1257.7 1935.3,1249.0 1967.9,1244.7 2000.5,1246.9 2022.3,1240.3 2044.1,1239.3 2065.8,1231.6 2085.4,1232.7 2107.2,1239.3 2128.9,1236.0 2150.7,1248.0 2185.5,1251.2 2218.1,1255.6 2239.9,1265.4 2276.9,1266.5 2300.8,1271.9 2320.0,1280.6"/>
<polyline stroke="#4060ff" points="297.4,1610.5 322.0,1611.0 351.5,1603.6 388.4,1597.5 437.6,1586.4 486.8,1576.6 536.0,1565.5 572.9,1560.6 617.2,1554.4 659.0,1549.5 708.2,1544.6 769.7,1543.4 800.0,1545.8 836.9,1547.1 861.5,1552.0 903.3,1550.8 947.6,1556.9 984.5,1560.6 1009.1,1568.0 1046.0,1570.4 1070.6,1577.8 1095.2,1577.8 1132.1,1585.2 1181.3,1585.2 1242.8,1593.8 1279.7,1593.8 1310.0,1598.7 1359.2,1601.2 1396.1,1601.2 1433.0,1606.1 1482.2,1606.1 1506.8,1608.6 1556.0,1607.3 1605.2,1608.6 1654.4,1607.3 1703.6,1601.2 1752.8,1595.0 1777.4,1590.1 1815.0,1588.5 1859.2,1584.0 1908.4,1574.1 1957.6,1566.7 2006.8,1559.4 2056.0,1556.9 2105.2,1552.0 2154.4,1554.4 2203.6,1556.9 2233.1,1553.2 2260.2,1560.6 2289.7,1556.9 2320.0,1560.6"/>
</g>
<rect x="296.2" y="61" width="2026.4" height="1626.6" fill="none" stroke="#000" stroke-width="11"/>
<g stroke="#000" stroke-width="10.5">
<line x1="296" y1="243" x2="327" y2="243"/>
<line x1="296" y1="423.5" x2="327" y2="423.5"/>
<line x1="296" y1="604" x2="327" y2="604"/>
<line x1="296" y1="784.5" x2="327" y2="784.5"/>
<line x1="296" y1="965" x2="327" y2="965"/>
<line x1="296" y1="1145.5" x2="327" y2="1145.5"/>
<line x1="296" y1="1326" x2="327" y2="1326"/>
<line x1="296" y1="1506.5" x2="327" y2="1506.5"/>
<line x1="435" y1="1687" x2="435" y2="1671"/>
<line x1="704.6" y1="1687" x2="704.6" y2="1657"/>
<line x1="974.3" y1="1687" x2="974.3" y2="1671"/>
<line x1="1244" y1="1687" x2="1244" y2="1657"/>
<line x1="1513.7" y1="1687" x2="1513.7" y2="1671"/>
<line x1="1783.4" y1="1687" x2="1783.4" y2="1657"/>
<line x1="2053.1" y1="1687" x2="2053.1" y2="1671"/>
</g>
<g font-size="87" text-anchor="end">
<text x="261.5" y="89">900</text>
<text x="261.5" y="267">800</text>
<text x="261.5" y="447.5">700</text>
<text x="261.5" y="628">600</text>
<text x="261.5" y="808.5">500</text>
<text x="261.5" y="989">400</text>
<text x="261.5" y="1169.5">300</text>
<text x="261.5" y="1350">200</text>
<text x="261.5" y="1532">100</text>
<text x="261.5" y="1712">0</text>
</g>
<g font-size="87" text-anchor="middle">
<text x="706" y="1788">425</text>
<text x="1245" y="1788">450</text>
<text x="1784" y="1788">475</text>
<text x="2324" y="1788">500</text>
</g>
<text x="1307.5" y="1935" font-size="93" text-anchor="middle">Wavelength(nm)</text>
<text transform="translate(96,877.5) rotate(-90)" font-size="92.3" text-anchor="middle">Flourescence Intensity(a.u.)</text>

<g stroke-width="12" stroke-linecap="round">
<line x1="412" y1="1148" x2="566" y2="1148" stroke="#ff0000"/>
<line x1="412" y1="1259.2" x2="566" y2="1259.2" stroke="#ff33aa"/>
<line x1="412" y1="1362" x2="566" y2="1362" stroke="#0000ff"/>
<line x1="412" y1="1473.3" x2="566" y2="1473.3" stroke="#4060ff"/>
</g>
<g font-size="70" transform="translate(587,0) scale(0.985,1) translate(-587,0)">
<text x="587" y="1171">Fe<tspan font-size="46" dy="17">3</tspan><tspan dy="-17">O</tspan><tspan font-size="46" dy="17">4</tspan><tspan dy="-17">@ZnS</tspan></text>
<text x="587" y="1281.4">Fe<tspan font-size="46" dy="17">3</tspan><tspan dy="-17">O</tspan><tspan font-size="46" dy="17">4</tspan><tspan dy="-17">@ZnS<tspan font-weight="normal">+</tspan>Ag</tspan><tspan font-size="46" font-weight="normal" dy="-27">+</tspan></text>
<text x="587" y="1386">Fe<tspan font-size="46" dy="17">3</tspan><tspan dy="-17">O</tspan><tspan font-size="46" dy="17">4</tspan><tspan dy="-17">@ZnS-SH</tspan></text>
<text x="587" y="1497">Fe<tspan font-size="46" dy="17">3</tspan><tspan dy="-17">O</tspan><tspan font-size="46" dy="17">4</tspan><tspan dy="-17">@ZnS-SH<tspan font-weight="normal">+</tspan>Ag</tspan><tspan font-size="46" font-weight="normal" dy="-27">+</tspan></text>
</g>
</svg>
</body></html>
